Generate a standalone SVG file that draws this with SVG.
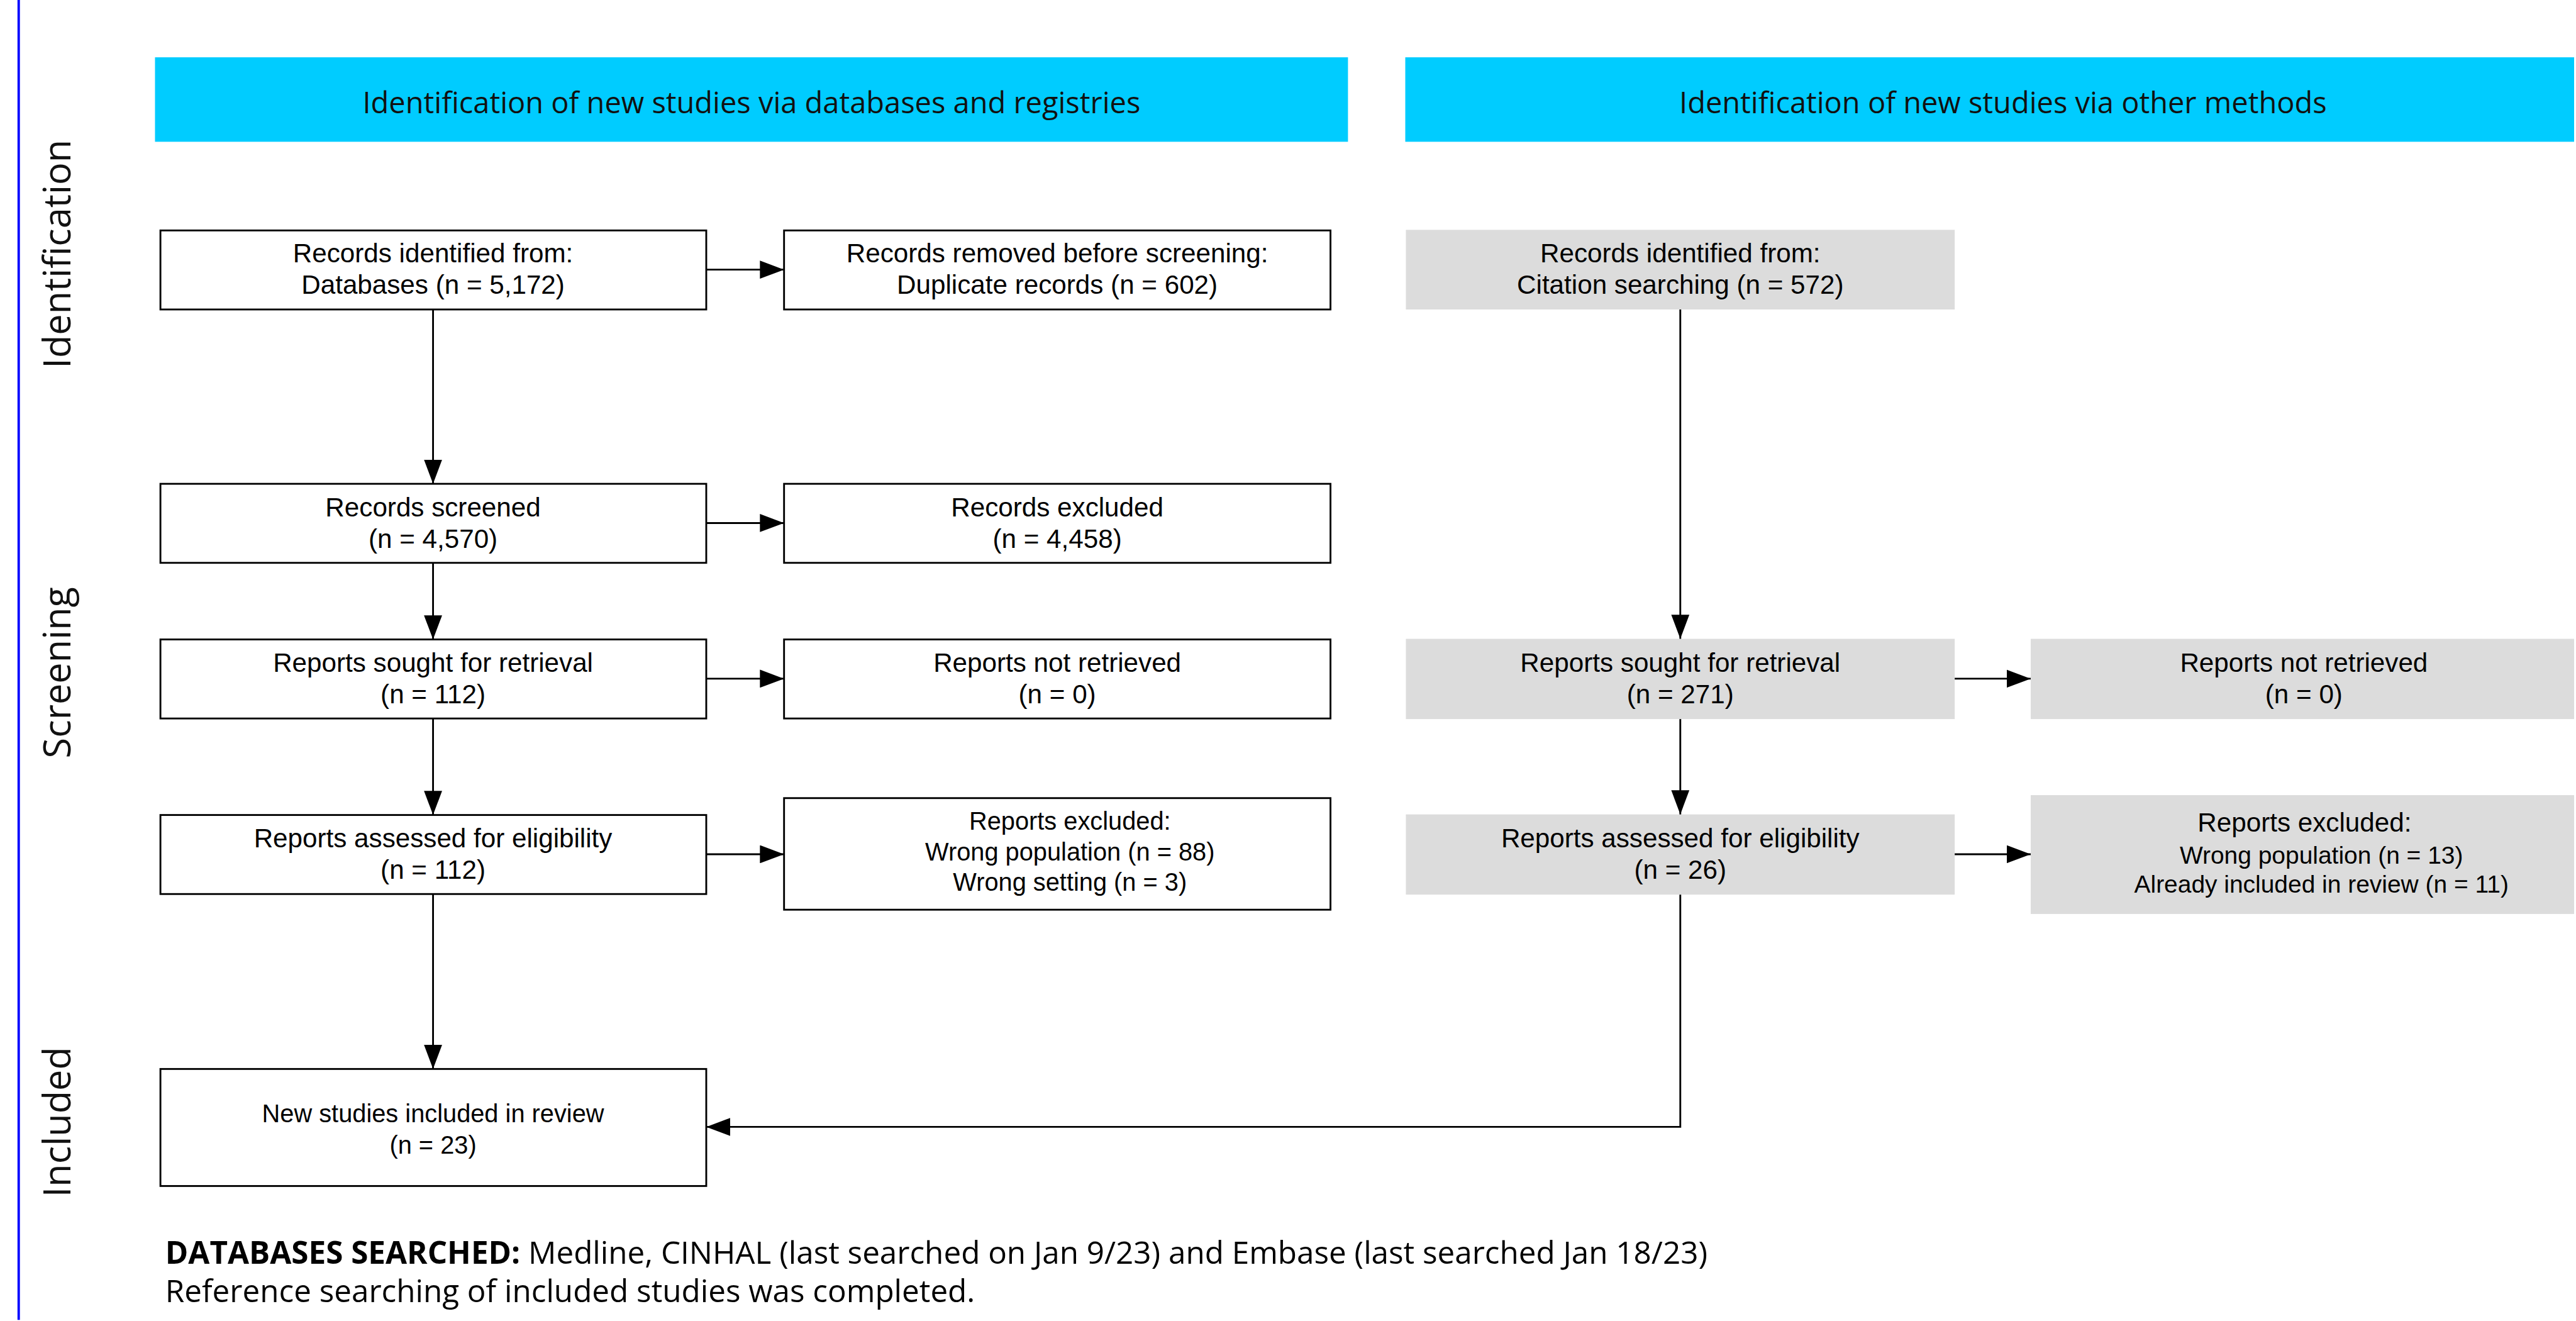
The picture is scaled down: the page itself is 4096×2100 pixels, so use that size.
<svg xmlns="http://www.w3.org/2000/svg" width="4096" height="2100" viewBox="0 0 4096 2100">
<defs>
<style>
.box{fill:#ffffff;stroke:#000;stroke-width:3}
.gbox{fill:#dcdcdc;stroke:none}
.hdr{fill:#00ccff}
.t{font-family:"Liberation Sans",Arial,sans-serif;font-size:44px;fill:#000;text-anchor:middle}
.ts{font-size:41.5px}
.tx{font-size:40.6px}
.h{font-family:"Open Sans","Noto Sans",sans-serif;font-size:49px;fill:#111;text-anchor:middle}
.side{font-family:"Open Sans","Noto Sans",sans-serif;font-size:62px;fill:#111;text-anchor:middle}
.foot{font-family:"Open Sans","Noto Sans",sans-serif;font-size:51.5px;fill:#000}
.c{fill:none;stroke:#000;stroke-width:3}
</style>
<marker id="ah" markerUnits="userSpaceOnUse" markerWidth="40" markerHeight="30" refX="40" refY="15" orient="auto">
<path d="M0,0 L40,15 L0,30 z" fill="#000"/>
</marker>
</defs>
<rect x="0" y="0" width="4096" height="2100" fill="#ffffff"/>
<g transform="scale(0.959)">
<line x1="31" y1="0" x2="31" y2="2188" stroke="#0000ff" stroke-width="4"/>
<g id="side-labels">
<text class="side" transform="translate(117,421) rotate(-90)">Identification</text>
<text class="side" transform="translate(117,1115) rotate(-90)">Screening</text>
<text class="side" transform="translate(117,1860) rotate(-90)">Included</text>
</g>
<g id="header-db">
<rect class="hdr" x="257" y="95" width="1978" height="140"/>
<text class="h" x="1246" y="188">Identification of new studies via databases and registries</text>
</g>
<g id="header-other">
<rect class="hdr" x="2330" y="95" width="1938" height="140"/>
<text class="h" x="3321" y="188">Identification of new studies via other methods</text>
</g>
<g id="n-records-db">
<rect class="box" x="266" y="382" width="905" height="131"/>
<text class="t" x="718" y="435">Records identified from:</text>
<text class="t" x="718" y="487">Databases (n = 5,172)</text>
</g>
<g id="n-removed">
<rect class="box" x="1300" y="382" width="906" height="131"/>
<text class="t" x="1753" y="435">Records removed before screening:</text>
<text class="t" x="1753" y="487">Duplicate records (n = 602)</text>
</g>
<g id="n-screened">
<rect class="box" x="266" y="802" width="905" height="131"/>
<text class="t" x="718" y="856">Records screened</text>
<text class="t" x="718" y="908">(n = 4,570)</text>
</g>
<g id="n-excluded">
<rect class="box" x="1300" y="802" width="906" height="131"/>
<text class="t" x="1753" y="856">Records excluded</text>
<text class="t" x="1753" y="908">(n = 4,458)</text>
</g>
<g id="n-sought-db">
<rect class="box" x="266" y="1060" width="905" height="131"/>
<text class="t" x="718" y="1114">Reports sought for retrieval</text>
<text class="t" x="718" y="1166">(n = 112)</text>
</g>
<g id="n-notretrieved-db">
<rect class="box" x="1300" y="1060" width="906" height="131"/>
<text class="t" x="1753" y="1114">Reports not retrieved</text>
<text class="t" x="1753" y="1166">(n = 0)</text>
</g>
<g id="n-assessed-db">
<rect class="box" x="266" y="1351" width="905" height="131"/>
<text class="t" x="718" y="1405">Reports assessed for eligibility</text>
<text class="t" x="718" y="1457">(n = 112)</text>
</g>
<g id="n-reportsexcluded-db">
<rect class="box" x="1300" y="1323" width="906" height="185"/>
<text class="t ts" x="1774" y="1375">Reports excluded:</text>
<text class="t ts" x="1774" y="1427">Wrong population (n = 88)</text>
<text class="t ts" x="1774" y="1477">Wrong setting (n = 3)</text>
</g>
<g id="n-included">
<rect class="box" x="266" y="1772" width="905" height="194"/>
<text class="t ts" x="718" y="1860">New studies included in review</text>
<text class="t ts" x="718" y="1912">(n = 23)</text>
</g>
<g id="n-records-other">
<rect class="gbox" x="2331" y="381" width="910" height="132"/>
<text class="t" x="2786" y="435">Records identified from:</text>
<text class="t" x="2786" y="487">Citation searching (n = 572)</text>
</g>
<g id="n-sought-other">
<rect class="gbox" x="2331" y="1059" width="910" height="133"/>
<text class="t" x="2786" y="1114">Reports sought for retrieval</text>
<text class="t" x="2786" y="1166">(n = 271)</text>
</g>
<g id="n-notretrieved-other">
<rect class="gbox" x="3367" y="1059" width="901" height="133"/>
<text class="t" x="3820" y="1114">Reports not retrieved</text>
<text class="t" x="3820" y="1166">(n = 0)</text>
</g>
<g id="n-assessed-other">
<rect class="gbox" x="2331" y="1350" width="910" height="133"/>
<text class="t" x="2786" y="1405">Reports assessed for eligibility</text>
<text class="t" x="2786" y="1457">(n = 26)</text>
</g>
<g id="n-reportsexcluded-other">
<rect class="gbox" x="3367" y="1318" width="901" height="197"/>
<text class="t" x="3821" y="1378">Reports excluded:</text>
<text class="t tx" x="3849" y="1432">Wrong population (n = 13)</text>
<text class="t tx" x="3849" y="1480">Already included in review (n = 11)</text>
</g>
<g id="connectors">
<line class="c" x1="1171" y1="447" x2="1300" y2="447" marker-end="url(#ah)"/>
<line class="c" x1="718" y1="513" x2="718" y2="802" marker-end="url(#ah)"/>
<line class="c" x1="1171" y1="867" x2="1300" y2="867" marker-end="url(#ah)"/>
<line class="c" x1="718" y1="933" x2="718" y2="1060" marker-end="url(#ah)"/>
<line class="c" x1="1171" y1="1125" x2="1300" y2="1125" marker-end="url(#ah)"/>
<line class="c" x1="718" y1="1191" x2="718" y2="1351" marker-end="url(#ah)"/>
<line class="c" x1="1171" y1="1416" x2="1300" y2="1416" marker-end="url(#ah)"/>
<line class="c" x1="718" y1="1482" x2="718" y2="1772" marker-end="url(#ah)"/>
<line class="c" x1="2786" y1="513" x2="2786" y2="1059" marker-end="url(#ah)"/>
<line class="c" x1="3241" y1="1125" x2="3367" y2="1125" marker-end="url(#ah)"/>
<line class="c" x1="2786" y1="1192" x2="2786" y2="1350" marker-end="url(#ah)"/>
<line class="c" x1="3241" y1="1416" x2="3367" y2="1416" marker-end="url(#ah)"/>
<polyline class="c" points="2786,1483 2786,1868 1171,1868" marker-end="url(#ah)"/>
</g>
<g id="footer">
<text class="foot" x="274" y="2095"><tspan font-weight="bold">DATABASES SEARCHED:</tspan> Medline, CINHAL (last searched on Jan 9/23) and Embase (last searched Jan 18/23)</text>
<text class="foot" x="274" y="2158" font-size="50.5">Reference searching of included studies was completed.</text>
</g>
</g>
</svg>
